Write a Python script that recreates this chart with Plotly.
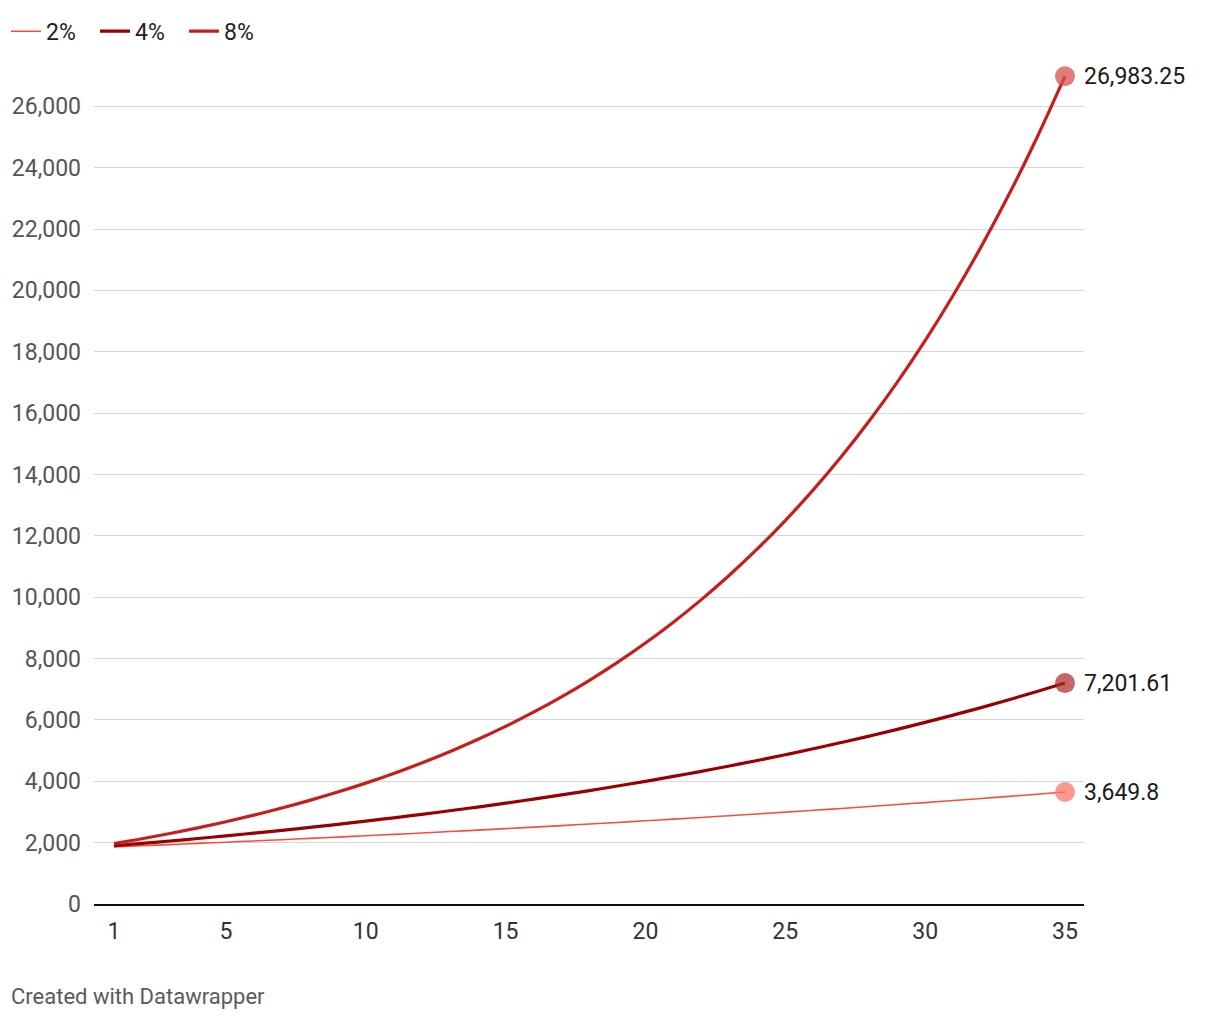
import plotly.graph_objects as go

years = list(range(1, 36))
rate_2 = [1861.50, 1898.73, 1936.70, 1975.44, 2014.95, 2055.25, 2096.35, 2138.28, 2181.04, 2224.66,
          2269.16, 2314.54, 2360.83, 2408.05, 2456.21, 2505.33, 2555.44, 2606.55, 2658.68, 2711.85,
          2766.09, 2821.41, 2877.84, 2935.40, 2994.11, 3053.99, 3115.07, 3177.37, 3240.92, 3305.74,
          3371.85, 3439.29, 3508.07, 3578.23, 3649.80]
rate_4 = [1898.00, 1973.92, 2052.88, 2134.99, 2220.39, 2309.21, 2401.58, 2497.64, 2597.54, 2701.45,
          2809.50, 2921.88, 3038.76, 3160.31, 3286.72, 3418.19, 3554.92, 3697.12, 3845.00, 3998.80,
          4158.75, 4325.10, 4498.11, 4678.03, 4865.15, 5059.76, 5262.15, 5472.63, 5691.54, 5919.20,
          6155.97, 6402.21, 6658.30, 6924.63, 7201.61]
rate_8 = [1971.00, 2128.68, 2298.97, 2482.89, 2681.52, 2896.05, 3127.73, 3377.95, 3648.18, 3940.04,
          4255.24, 4595.66, 4963.31, 5360.38, 5789.21, 6252.35, 6752.53, 7292.73, 7876.15, 8506.25,
          9186.75, 9921.69, 10715.42, 11572.66, 12498.47, 13498.34, 14578.21, 15744.47, 17004.03, 18364.35,
          19833.50, 21420.18, 23133.79, 24984.49, 26983.25]
end_labels = ["3,649.8", "7,201.61", "26,983.25"]
series_names = ["2%", "4%", "8%"]
y_ticks = list(range(0, 26001, 2000))
x_ticks = [1, 5, 10, 15, 20, 25, 30, 35]

colors = ["#f0503f", "#990000", "#c71e1d"]
marker_colors = ["rgba(245,120,105,0.75)", "rgba(170,40,40,0.7)", "rgba(215,80,80,0.75)"]
widths = [1.6, 3.2, 3.2]
series = [rate_2, rate_4, rate_8]

fig = go.Figure()
for name, vals, c, w in zip(series_names, series, colors, widths):
    fig.add_trace(go.Scatter(x=years, y=vals, mode="lines", name=name,
                             line=dict(color=c, width=w, shape="spline"),
                             hoverinfo="skip"))
for vals, mc in zip(series, marker_colors):
    fig.add_trace(go.Scatter(x=[years[-1]], y=[vals[-1]], mode="markers", showlegend=False,
                             marker=dict(color=mc, size=20, line=dict(width=0)),
                             hoverinfo="skip"))
for vals, lab in zip(series, end_labels):
    fig.add_annotation(x=years[-1], y=vals[-1], text=lab, showarrow=False,
                       xanchor="left", yanchor="middle", xshift=17,
                       font=dict(family="Roboto", size=23, color="#1a1a1a"))

fig.add_annotation(xref="paper", yref="paper", x=-0.086, y=-0.108,
                   text="Created with Datawrapper", showarrow=False,
                   xanchor="left", yanchor="middle",
                   font=dict(family="Roboto", size=22, color="#5a5a5a"))

fig.update_layout(
    width=1212, height=1012,
    margin=dict(l=86, r=136, t=37, b=116, autoexpand=False),
    plot_bgcolor="white", paper_bgcolor="white",
    font=dict(family="Roboto"),
    showlegend=True,
    legend=dict(orientation="h", x=-0.0889, y=1.016, xanchor="left", yanchor="middle",
                font=dict(size=23, color="#222222"), itemwidth=30,
                entrywidth=44, entrywidthmode="pixels",
                bgcolor="rgba(0,0,0,0)"),
    xaxis=dict(range=[0.285, 35.68], tickvals=x_ticks, ticktext=[str(v) for v in x_ticks],
               showgrid=False, zeroline=False, showline=True, linecolor="#111111", linewidth=2,
               ticks="", ticklabelstandoff=5, automargin=False,
               tickfont=dict(size=23, color="#333333")),
    yaxis=dict(range=[0, 28000], tickvals=y_ticks, ticktext=[f"{v:,}" for v in y_ticks],
               showgrid=True, gridcolor="#d6d6d6", gridwidth=1, zeroline=False,
               ticks="", ticklabelstandoff=12, automargin=False,
               tickfont=dict(size=23, color="#555555")),
)

fig.write_html("out.html")
